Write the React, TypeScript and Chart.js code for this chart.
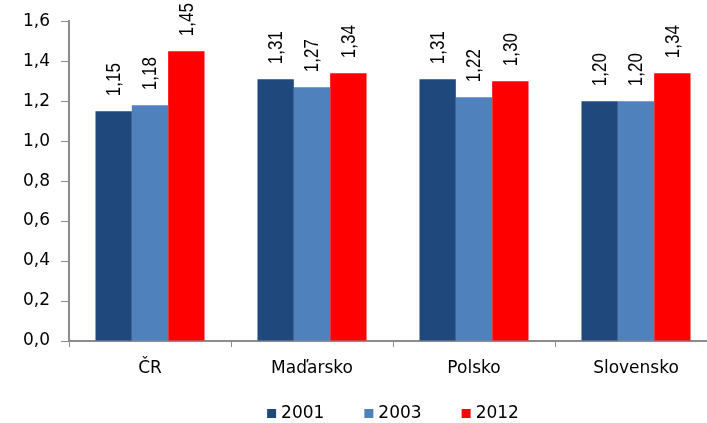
import React, { useEffect, useRef } from "react";
import { Chart, registerables } from "chart.js";

Chart.register(...registerables);

const categories = ["ČR", "Maďarsko", "Polsko", "Slovensko"];
const seriesNames = ["2001", "2003", "2012"];
const values2001 = [1.15, 1.31, 1.31, 1.2];
const values2003 = [1.18, 1.27, 1.22, 1.2];
const values2012 = [1.45, 1.34, 1.3, 1.34];
const seriesColors = ["#1F497D", "#4F81BD", "#FF0000"];
const yMin = 0;
const yMax = 1.6;
const yStep = 0.2;

const AXIS_FONT = '"DejaVu Sans", "Liberation Sans", sans-serif';
const LABEL_FONT = '"Liberation Sans", Arial, sans-serif';
const AXIS_COLOR = "#8c8c8c";

const fmt = (v: number, d: number) => v.toFixed(d).replace(".", ",");

const dataLabelPlugin = {
  id: "dataLabels",
  afterDatasetsDraw(chart: any) {
    const ctx = chart.ctx;
    ctx.save();
    ctx.fillStyle = "#000";
    ctx.font = `17px ${LABEL_FONT}`;
    chart.data.datasets.forEach((ds: any, i: number) => {
      const meta = chart.getDatasetMeta(i);
      meta.data.forEach((bar: any, j: number) => {
        const { x, y } = bar.getProps(["x", "y"], true);
        ctx.save();
        ctx.translate(x + 1, y - 15);
        ctx.rotate(-Math.PI / 2);
        ctx.scale(1, 1.15);
        ctx.textAlign = "left";
        ctx.textBaseline = "middle";
        ctx.fillText(fmt(ds.data[j], 2), 0, 0);
        ctx.restore();
      });
    });
    ctx.restore();
  },
};

const legendPlugin = {
  id: "customLegend",
  afterDraw(chart: any) {
    const ctx = chart.ctx;
    const area = chart.chartArea;
    ctx.save();
    ctx.font = `17px ${AXIS_FONT}`;
    const box = 9;
    const gap = 5;
    const spacing = 40;
    const widths = seriesNames.map((n) => ctx.measureText(n).width);
    const total =
      widths.reduce((a, w) => a + box + gap + w, 0) + spacing * (seriesNames.length - 1);
    let x = (area.left + area.right) / 2 - total / 2;
    const yc = chart.height - 9;
    seriesNames.forEach((n, i) => {
      ctx.fillStyle = seriesColors[i];
      ctx.fillRect(x, yc - box / 2 - 0.5, box, box);
      ctx.fillStyle = "#000";
      ctx.textAlign = "left";
      ctx.textBaseline = "middle";
      ctx.fillText(n, x + box + gap, yc);
      x += box + gap + widths[i] + spacing;
    });
    ctx.restore();
  },
};

export default function App() {
  const canvasRef = useRef<HTMLCanvasElement | null>(null);

  useEffect(() => {
    if (!canvasRef.current) return;
    const chart = new Chart(canvasRef.current, {
      type: "bar",
      data: {
        labels: categories,
        datasets: [values2001, values2003, values2012].map((vals, i) => ({
          label: seriesNames[i],
          data: vals,
          backgroundColor: seriesColors[i],
          borderWidth: 0,
          categoryPercentage: 0.673,
          barPercentage: 1,
        })),
      },
      options: {
        responsive: false,
        animation: false,
        devicePixelRatio: 1,
        layout: { padding: { left: 0, right: 3, top: 21, bottom: 42 } },
        plugins: {
          legend: { display: false },
          tooltip: { enabled: false },
        },
        scales: {
          x: {
            grid: {
              display: true,
              drawOnChartArea: false,
              drawTicks: true,
              tickLength: 6,
              color: AXIS_COLOR,
              offset: true,
            },
            border: { color: AXIS_COLOR, width: 2 },
            ticks: {
              color: "#000",
              font: { family: AXIS_FONT, size: 17 },
              padding: 11,
              maxRotation: 0,
            },
            afterFit: (s: any) => {
              s.height = 40;
            },
          },
          y: {
            min: yMin,
            max: yMax,
            grid: {
              display: true,
              drawOnChartArea: false,
              drawTicks: true,
              tickLength: 8,
              color: AXIS_COLOR,
            },
            border: { color: AXIS_COLOR, width: 2 },
            ticks: {
              stepSize: yStep,
              color: "#000",
              font: { family: AXIS_FONT, size: 17 },
              padding: 11,
              callback: (v: any) => fmt(Number(v), 1),
            },
            afterFit: (s: any) => {
              s.width = 69;
            },
          },
        },
      },
      plugins: [dataLabelPlugin, legendPlugin],
    });
    return () => chart.destroy();
  }, []);

  return (
    <div
      style={{
        position: "fixed",
        left: 0,
        top: 0,
        width: 707,
        height: 423,
        overflow: "hidden",
        background: "#fff",
      }}
    >
      <canvas ref={canvasRef} width={720} height={423} style={{ display: "block" }} />
    </div>
  );
}
